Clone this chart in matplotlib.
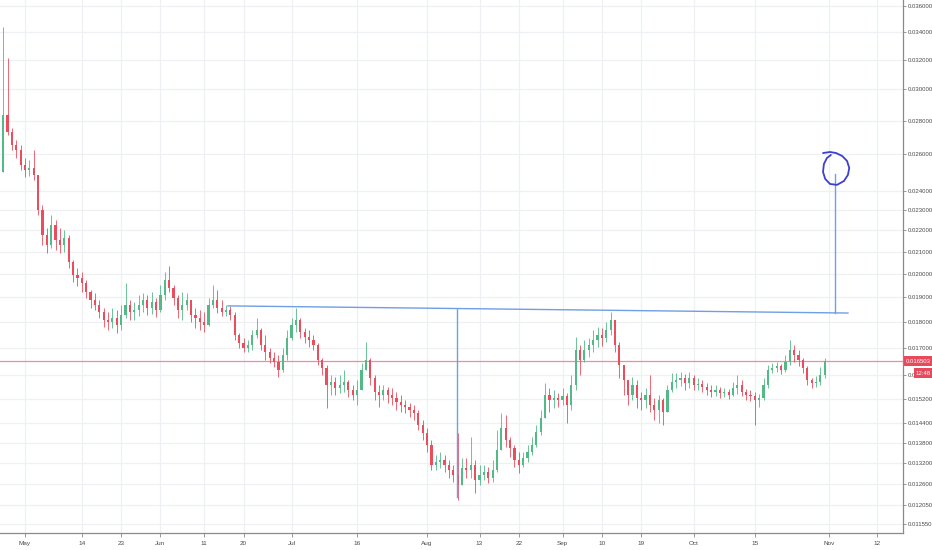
import datetime as dt
import numpy as np
import matplotlib
matplotlib.use("Agg")
import matplotlib.pyplot as plt
import matplotlib.dates as mdates
from matplotlib.patches import Rectangle
from matplotlib.ticker import FixedLocator, NullLocator

# ---------------- data ----------------
start_date = dt.date(2018, 4, 26)
first_open = 0.02501
last_price = 0.016503

closes = [
    0.02834, 0.02730, 0.02654, 0.02625, 0.02540, 0.02512, 0.02523, 0.02485, 0.02301, 0.02178,
    0.02131, 0.02226, 0.02154, 0.02131, 0.02164, 0.02053, 0.01995, 0.01982, 0.01960, 0.01922,
    0.01888, 0.01868, 0.01839, 0.01807, 0.01799, 0.01815, 0.01788, 0.01827, 0.01868, 0.01839,
    0.01847, 0.01868, 0.01888, 0.01856, 0.01880, 0.01847, 0.01909, 0.01973, 0.01939, 0.01897,
    0.01847, 0.01868, 0.01888, 0.01827, 0.01815, 0.01799, 0.01788, 0.01868, 0.01888, 0.01856,
    0.01839, 0.01847, 0.01827, 0.01749, 0.01718, 0.01700, 0.01711, 0.01749, 0.01768, 0.01711,
    0.01685, 0.01663, 0.01648, 0.01619, 0.01674, 0.01737, 0.01788, 0.01807, 0.01760, 0.01741,
    0.01730, 0.01711, 0.01655, 0.01627, 0.01567, 0.01577, 0.01557, 0.01567, 0.01577, 0.01550,
    0.01533, 0.01550, 0.01619, 0.01655, 0.01591, 0.01543, 0.01533, 0.01550, 0.01533, 0.01523,
    0.01510, 0.01500, 0.01493, 0.01483, 0.01474, 0.01435, 0.01410, 0.01374, 0.01315, 0.01323,
    0.01329, 0.01315, 0.01300, 0.01286, 0.01258, 0.01306, 0.01300, 0.01315, 0.01272, 0.01286,
    0.01295, 0.01278, 0.01300, 0.01359, 0.01426, 0.01389, 0.01365, 0.01329, 0.01315, 0.01335,
    0.01353, 0.01374, 0.01413, 0.01458, 0.01533, 0.01516, 0.01523, 0.01516, 0.01530, 0.01500,
    0.01567, 0.01692, 0.01655, 0.01692, 0.01711, 0.01730, 0.01749, 0.01737, 0.01768, 0.01807,
    0.01711, 0.01637, 0.01584, 0.01533, 0.01567, 0.01523, 0.01516, 0.01533, 0.01500, 0.01483,
    0.01516, 0.01477, 0.01550, 0.01577, 0.01584, 0.01591, 0.01574, 0.01591, 0.01567, 0.01570,
    0.01560, 0.01550, 0.01543, 0.01550, 0.01540, 0.01543, 0.01533, 0.01557, 0.01567, 0.01543,
    0.01533, 0.01530, 0.01516, 0.01523, 0.01567, 0.01619, 0.01627, 0.01634, 0.01619, 0.01648,
    0.01692, 0.01674, 0.01655, 0.01627, 0.01584, 0.01574, 0.01577, 0.01602, 0.016503,
]

highs = [
    0.03438, 0.03212, 0.02755, 0.02683, 0.02654, 0.02579, 0.02568, 0.02625, 0.02485, 0.02326,
    0.02212, 0.02276, 0.02251, 0.02212, 0.02202, 0.02178, 0.02062, 0.02026, 0.02008, 0.01973,
    0.01930, 0.01918, 0.01888, 0.01856, 0.01839, 0.01856, 0.01847, 0.01868, 0.01960, 0.01888,
    0.01880, 0.01909, 0.01918, 0.01909, 0.01922, 0.01897, 0.01952, 0.02008, 0.02035, 0.01952,
    0.01909, 0.01922, 0.01918, 0.01888, 0.01856, 0.01847, 0.01839, 0.01897, 0.01952, 0.01930,
    0.01888, 0.01868, 0.01864, 0.01839, 0.01757, 0.01737, 0.01730, 0.01768, 0.01815, 0.01776,
    0.01749, 0.01700, 0.01685, 0.01674, 0.01700, 0.01768, 0.01815, 0.01856, 0.01815, 0.01776,
    0.01768, 0.01749, 0.01718, 0.01663, 0.01637, 0.01602, 0.01595, 0.01602, 0.01619, 0.01584,
    0.01567, 0.01584, 0.01645, 0.01722, 0.01663, 0.01602, 0.01567, 0.01567, 0.01560, 0.01557,
    0.01543, 0.01533, 0.01516, 0.01506, 0.01500, 0.01483, 0.01451, 0.01426, 0.01389, 0.01344,
    0.01353, 0.01344, 0.01329, 0.01315, 0.01410, 0.01335, 0.01335, 0.01398, 0.01329, 0.01315,
    0.01315, 0.01309, 0.01329, 0.01420, 0.01474, 0.01467, 0.01398, 0.01374, 0.01353, 0.01353,
    0.01374, 0.01398, 0.01435, 0.01483, 0.01574, 0.01557, 0.01550, 0.01540, 0.01557, 0.01540,
    0.01602, 0.01741, 0.01711, 0.01730, 0.01737, 0.01768, 0.01780, 0.01776, 0.01799, 0.01839,
    0.01807, 0.01722, 0.01637, 0.01584, 0.01595, 0.01584, 0.01543, 0.01557, 0.01602, 0.01523,
    0.01533, 0.01523, 0.01567, 0.01609, 0.01609, 0.01612, 0.01605, 0.01612, 0.01602, 0.01591,
    0.01584, 0.01574, 0.01567, 0.01567, 0.01560, 0.01557, 0.01553, 0.01577, 0.01602, 0.01584,
    0.01553, 0.01550, 0.01543, 0.01536, 0.01591, 0.01637, 0.01645, 0.01648, 0.01641, 0.01674,
    0.01730, 0.01711, 0.01692, 0.01663, 0.01634, 0.01591, 0.01598, 0.01630, 0.01663,
]

lows = [
    0.02501, 0.02713, 0.02625, 0.02579, 0.02512, 0.02474, 0.02479, 0.02457, 0.02276, 0.02131,
    0.02094, 0.02117, 0.02107, 0.02094, 0.02098, 0.02026, 0.01965, 0.01947, 0.01922, 0.01897,
    0.01856, 0.01847, 0.01815, 0.01780, 0.01768, 0.01776, 0.01757, 0.01768, 0.01815, 0.01807,
    0.01807, 0.01823, 0.01839, 0.01827, 0.01831, 0.01819, 0.01839, 0.01888, 0.01922, 0.01868,
    0.01815, 0.01807, 0.01847, 0.01799, 0.01776, 0.01768, 0.01760, 0.01784, 0.01856, 0.01835,
    0.01823, 0.01823, 0.01807, 0.01730, 0.01700, 0.01685, 0.01685, 0.01692, 0.01737, 0.01692,
    0.01655, 0.01645, 0.01630, 0.01595, 0.01612, 0.01655, 0.01730, 0.01760, 0.01737, 0.01718,
    0.01703, 0.01692, 0.01637, 0.01602, 0.01490, 0.01533, 0.01533, 0.01540, 0.01543, 0.01526,
    0.01516, 0.01500, 0.01550, 0.01627, 0.01567, 0.01516, 0.01493, 0.01516, 0.01506, 0.01500,
    0.01483, 0.01477, 0.01474, 0.01461, 0.01451, 0.01420, 0.01389, 0.01353, 0.01300, 0.01300,
    0.01306, 0.01295, 0.01278, 0.01267, 0.01217, 0.01272, 0.01278, 0.01278, 0.01236, 0.01258,
    0.01272, 0.01264, 0.01267, 0.01295, 0.01389, 0.01368, 0.01338, 0.01309, 0.01292, 0.01309,
    0.01323, 0.01344, 0.01368, 0.01404, 0.01458, 0.01477, 0.01490, 0.01493, 0.01500, 0.01442,
    0.01483, 0.01550, 0.01602, 0.01648, 0.01666, 0.01685, 0.01703, 0.01707, 0.01722, 0.01749,
    0.01685, 0.01591, 0.01533, 0.01500, 0.01516, 0.01490, 0.01483, 0.01490, 0.01477, 0.01451,
    0.01442, 0.01435, 0.01483, 0.01543, 0.01557, 0.01564, 0.01550, 0.01557, 0.01550, 0.01550,
    0.01543, 0.01533, 0.01526, 0.01530, 0.01523, 0.01526, 0.01520, 0.01530, 0.01536, 0.01530,
    0.01516, 0.01513, 0.01435, 0.01493, 0.01516, 0.01557, 0.01609, 0.01612, 0.01605, 0.01612,
    0.01637, 0.01648, 0.01634, 0.01609, 0.01567, 0.01557, 0.01560, 0.01567, 0.01591,
]

price_ticks = [0.036, 0.034, 0.032, 0.030, 0.028, 0.026, 0.024, 0.023, 0.022, 0.021,
               0.020, 0.019, 0.018, 0.017, 0.016, 0.0152, 0.0144, 0.0138, 0.0132,
               0.0126, 0.01205, 0.01155]
# the 0.016000 label is mostly hidden behind the time box in the reference: only "0.0" shows
price_tick_labels = ["0.036000", "0.034000", "0.032000", "0.030000", "0.028000",
                     "0.026000", "0.024000", "0.023000", "0.022000", "0.021000",
                     "0.020000", "0.019000", "0.018000", "0.017000", "0.0",
                     "0.015200", "0.014400", "0.013800", "0.013200", "0.012600",
                     "0.012050", "0.011550"]

date_ticks = ["2018-05-01", "2018-05-14", "2018-05-23", "2018-06-01", "2018-06-11",
              "2018-06-20", "2018-07-01", "2018-07-16", "2018-08-01", "2018-08-13",
              "2018-08-22", "2018-09-01", "2018-09-10", "2018-09-19", "2018-10-01",
              "2018-10-15", "2018-11-01", "2018-11-12"]
date_tick_labels = ["May", "14", "23", "Jun", "11", "20", "Jul", "16", "Aug", "13",
                    "22", "Sep", "10", "19", "Oct", "15", "Nov", "12"]

# annotation drawings (days after May 1, price)
neckline = [(46.45, 0.01864), (188.3, 0.01835)]
drop_line = [(98.9, 0.01850), (98.9, 0.01225)]
target_line = [(185.4, 0.01835), (185.4, 0.02490)]
circle_pts = [(182.6, 0.02607), (184.2, 0.02613), (185.6, 0.02607), (187.0, 0.02590),
              (188.1, 0.02562), (188.6, 0.02523), (188.3, 0.02485), (187.4, 0.02452),
              (185.8, 0.02431), (184.2, 0.02436), (183.1, 0.02463), (182.6, 0.02501),
              (182.8, 0.02545), (183.5, 0.02579), (184.4, 0.02596)]

# ---------------- figure ----------------
plt.rcParams['font.family'] = ['Liberation Sans', 'DejaVu Sans']
W, H = 932, 550
fig = plt.figure(figsize=(W / 100, H / 100), dpi=100)
fig.patch.set_facecolor('white')
ax = fig.add_axes([0, 17 / H, 903 / W, 533 / H])
ax.set_facecolor('white')

may1 = mdates.date2num(dt.datetime(2018, 5, 1))
x = np.array([mdates.date2num(dt.datetime.combine(start_date, dt.time()) + dt.timedelta(days=i))
              for i in range(len(closes))])
c = np.array(closes)
o = np.array([first_open] + closes[:-1])
h = np.maximum(np.array(highs), np.maximum(o, c))
l = np.minimum(np.array(lows), np.minimum(o, c))

up_col, dn_col = '#53b987', '#eb4d5c'
cols = [up_col if ci >= oi else dn_col for oi, ci in zip(o, c)]

ax.set_yscale('log')
ax.set_ylim(0.011323, 0.036477)
ax.set_xlim(may1 - 5.72, may1 + 200.9)

# grid
grid_col = '#eef0f4'
for p in price_ticks:
    ax.axhline(p, color=grid_col, lw=0.9, zorder=0)
for d in date_ticks:
    ax.axvline(mdates.date2num(dt.datetime.fromisoformat(d)), color=grid_col, lw=0.9, zorder=0)

# candles
ax.vlines(x, l, h, colors=cols, lw=0.6, zorder=2)
bottoms = np.minimum(o, c)
heights = np.maximum(np.abs(c - o), 0.00001)
ax.bar(x, heights, bottom=bottoms, width=0.5, color=cols, linewidth=0, zorder=3)

# last price line
ax.axhline(last_price, color='#f08d98', lw=0.9, zorder=1.8)

# annotations
line_col = '#6f9fe6'
for seg in (neckline, drop_line, target_line):
    ax.plot([may1 + s[0] for s in seg], [s[1] for s in seg], color=line_col, lw=1.0, zorder=4)
ax.plot([may1 + s[0] for s in circle_pts], [s[1] for s in circle_pts],
        color='#3d3fd0', lw=1.3, zorder=4, solid_capstyle='round', solid_joinstyle='round')

# axes styling
for s in ('left', 'top'):
    ax.spines[s].set_visible(False)
for s in ('right', 'bottom'):
    ax.spines[s].set_color('#8a8a8a')
    ax.spines[s].set_linewidth(0.9)

ax.yaxis.tick_right()
ax.yaxis.set_major_locator(FixedLocator(price_ticks))
ax.yaxis.set_minor_locator(NullLocator())
ax.set_yticklabels(price_tick_labels)
ax.tick_params(axis='y', which='major', length=2.5, width=0.6, color='#8a8a8a',
               labelsize=4.3, labelcolor='#4a4a4a', pad=1.2)

ax.xaxis.set_major_locator(FixedLocator([mdates.date2num(dt.datetime.fromisoformat(d)) for d in date_ticks]))
ax.xaxis.set_minor_locator(NullLocator())
ax.set_xticklabels(date_tick_labels)
ax.tick_params(axis='x', which='major', length=3, width=0.6, color='#8a8a8a',
               labelsize=4.6, labelcolor='#4a4a4a', pad=3)

# price labels on the right scale
fig.canvas.draw()
inv = fig.transFigure.inverted()
py = inv.transform(ax.transData.transform((may1, last_price)))[1]
fig.add_artist(Rectangle((904 / W, py - 5 / H), 28 / W, 10 / H, transform=fig.transFigure,
                         facecolor='#e8495d', edgecolor='none', zorder=10))
fig.text(918 / W, py, "0.016503", color='white', fontsize=4.3, ha='center', va='center', zorder=11)
fig.add_artist(Rectangle((914 / W, py - 17 / H), 18 / W, 10 / H, transform=fig.transFigure,
                         facecolor='#e8495d', edgecolor='none', zorder=10))
fig.text(923 / W, py - 12 / H, "12:48", color='white', fontsize=4.3, ha='center', va='center', zorder=11)

fig.savefig('out.png', dpi=100, facecolor='white')
